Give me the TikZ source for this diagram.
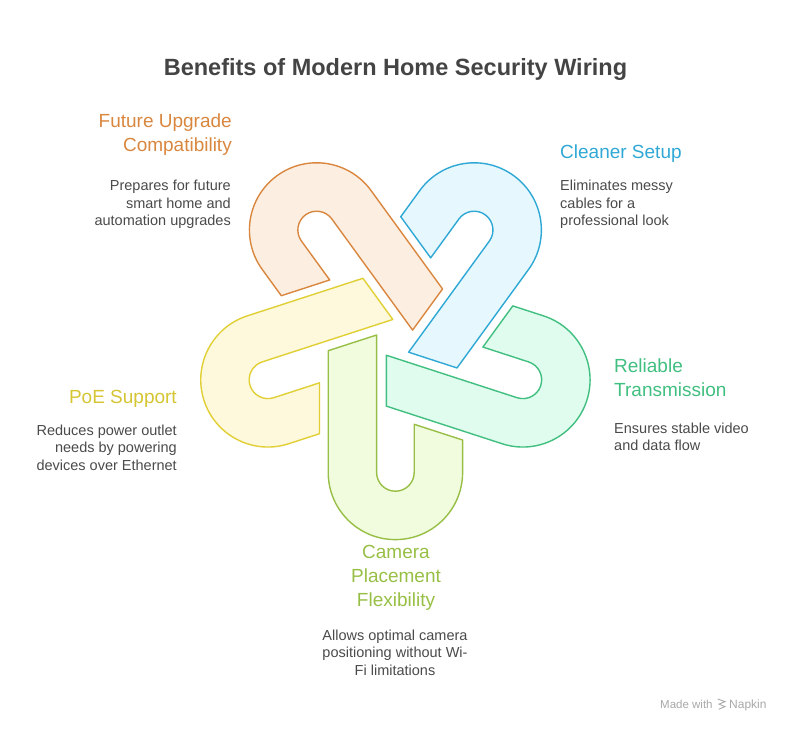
\documentclass[tikz,border=0pt]{standalone}
\usepackage{fontspec}
\setmainfont{Liberation Sans}
\usetikzlibrary{positioning}

\definecolor{titleGray}{HTML}{444444}
\definecolor{bodyGray}{HTML}{4A4A4A}
\definecolor{markGray}{HTML}{A8A8A8}
\definecolor{futLine}{HTML}{D9873F}
\definecolor{futFill}{HTML}{FDEEE2}
\definecolor{cleanLine}{HTML}{2FA8D5}
\definecolor{cleanFill}{HTML}{E6F7FD}
\definecolor{relLine}{HTML}{40BF80}
\definecolor{relFill}{HTML}{E0FCEE}
\definecolor{poeLine}{HTML}{E0CF35}
\definecolor{poeFill}{HTML}{FEF9DD}
\definecolor{camLine}{HTML}{98BF45}
\definecolor{camFill}{HTML}{F1FCDF}

\tikzset{
  link/.style={line width=1.4pt, line join=round},
  heading/.style={inner sep=0pt, font=\fontsize{19}{24}\selectfont},
  body/.style={inner sep=0pt, text=bodyGray, font=\fontsize{14.5}{17.5}\selectfont},
  madeby/.style={inner sep=0pt, text=markGray},
}

% one hook of the chain, turned about the centre (C)
\newcommand{\linkShape}[3]{
  \draw[link, fill=#2, draw=#3, shift={(C)}, rotate=#1]
    (-18.8,3.4) -- (-67.2,-12.3) -- (-67.2,-134)
    arc[start angle=180, end angle=360, radius=67.2]
    -- (67.2,-101.6) -- (18.8,-85.9) -- (18.8,-134)
    arc[start angle=0, end angle=-180, radius=18.8] -- cycle;
}

\begin{document}
\begin{tikzpicture}[x=1pt,y=1pt]
  \useasboundingbox (0,0) rectangle (792,-732);
  \coordinate (C) at (395.4,-338.4);

  \linkShape{0}{camFill}{camLine}
  \linkShape{-72}{poeFill}{poeLine}
  \linkShape{-144}{futFill}{futLine}
  \linkShape{-216}{cleanFill}{cleanLine}
  \linkShape{-288}{relFill}{relLine}

  \node[anchor=base, text=titleGray, font=\bfseries\fontsize{23.5}{28}\selectfont] (title)
    at (395.5,-75) {Benefits of Modern Home Security Wiring};

  % texts: anchor base sits on the last line
  \node[heading, text=futLine, align=right, anchor=base east] (fut) at (232,-151)
    {Future Upgrade\\Compatibility};
  \node[body, align=right, anchor=base east] (futText) at (231,-225.7)
    {Prepares for future\\smart home and\\automation upgrades};

  \node[heading, text=cleanLine, align=left, anchor=base west] (clean) at (560,-158.3)
    {Cleaner Setup};
  \node[body, align=left, anchor=base west] (cleanText) at (560,-225.7)
    {Eliminates messy\\cables for a\\professional look};

  \node[heading, text=relLine, align=left, anchor=base west] (rel) at (614,-396.7)
    {Reliable\\Transmission};
  \node[body, align=left, anchor=base west] (relText) at (614,-450.7)
    {Ensures stable video\\and data flow};

  \node[heading, text=poeLine!95!black, align=right, anchor=base east] (poe) at (177,-403.3)
    {PoE Support};
  \node[body, align=right, anchor=base east] (poeText) at (177,-470)
    {Reduces power outlet\\needs by powering\\devices over Ethernet};

  \node[heading, text=camLine, align=center, anchor=base] (cam) at (396,-606.7)
    {Camera\\Placement\\Flexibility};
  \node[body, align=center, anchor=base] (camText) at (395,-675)
    {Allows optimal camera\\positioning without Wi-\\Fi limitations};

  % made with napkin
  \node[madeby, anchor=base west, font=\fontsize{11.5}{13}\selectfont] (made)
    at (660,-708.5) {Made with};
  \node[madeby, anchor=base west, font=\fontsize{12}{13}\selectfont] (napkin)
    at (729,-708.5) {Napkin};
  \draw[markGray, line width=0.9pt, line cap=round]
    ([xshift=-11pt,yshift=0.5pt]napkin.north west) -- ++(7,-2.5) -- ++(-6,-2.5) -- ++(6,-2.5) -- ++(-6,-2.5);
\end{tikzpicture}
\end{document}
